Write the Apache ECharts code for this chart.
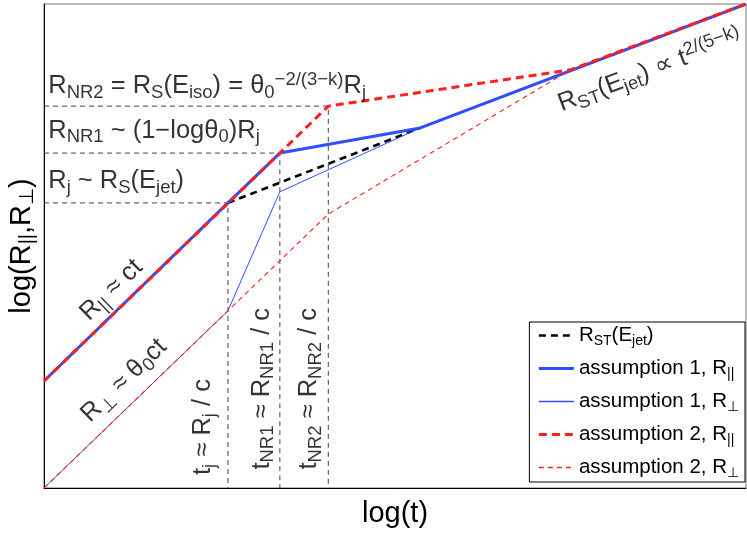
<!DOCTYPE html>
<html lang="en">
<head>
  <meta charset="UTF-8">
  <title>log(R) vs log(t)</title>
  <script src="https://cdn.jsdelivr.net/npm/echarts@6/dist/echarts.min.js"></script>
  <style>
    html, body { margin: 0; padding: 0; background: #fff; }
    #chart { width: 747px; height: 536px; }
  </style>
</head>
<body>
<div id="chart"></div>
<script>
  // break times (log t) and radii (log R), axes run 0..100
  var tBreakX = [26.2, 33.6, 40.5];   // t_j, t_NR1, t_NR2
  var rBreakY = [58.9, 69.2, 78.9];   // R_j, R_NR1, R_NR2

  var rstJet = [[26.2, 58.9], [53.6, 74.4]];
  var a1Par  = [[0, 22.1], [26.2, 58.9], [33.6, 69.2], [53.6, 74.4], [100, 100]];
  var a1Perp = [[0, 0], [26.2, 36.6], [33.6, 61.2], [53.6, 74.4], [100, 100]];
  var a2Par  = [[0, 22.1], [33.6, 69.2], [40.5, 78.9], [75, 86.4], [100, 100]];
  var a2Perp = [[0, 0], [26.2, 36.6], [40.5, 56.6], [75, 86.4], [100, 100]];

  var legendNames = ['rst', 'a1par', 'a1perp', 'a2par', 'a2perp'];
  var legendText = {
    rst: '{b|R}{s|ST}{b|(E}{s|jet}{b|)}',
    a1par: '{b|assumption 1, R}{s|||}',
    a1perp: '{b|assumption 1, R}{s|⊥}',
    a2par: '{b|assumption 2, R}{s|||}',
    a2perp: '{b|assumption 2, R}{s|⊥}'
  };

  // text notes: anchor in data units, rotation in degrees
  var notes = [
    { at: [0.6, 83.0], rot: 0, align: 'left',
      text: '{b|R}{s|NR2}{b| = R}{s|S}{b|(E}{s|iso}{b|) = θ}{s|0}{p|−2/(3−k)}{b|R}{s|j}' },
    { at: [0.6, 73.8], rot: 0, align: 'left',
      text: '{b|R}{s|NR1}{b| ~ (1−logθ}{s|0}{b|)R}{s|j}' },
    { at: [0.6, 63.4], rot: 0, align: 'left',
      text: '{b|R}{s|j}{b| ~ R}{s|S}{b|(E}{s|jet}{b|)}' },
    { at: [9.6, 40.9], rot: 44, align: 'center',
      text: '{b|R}{s|||}{b| ≈ ct}' },
    { at: [11.4, 22.2], rot: 44, align: 'center',
      text: '{b|R}{s|⊥}{b| ≈ θ}{s|0}{b|ct}' },
    { at: [22.7, 12.6], rot: 90, align: 'center',
      text: '{b|t}{s|j}{b| ≈ R}{s|j}{b| / c}' },
    { at: [31.0, 20.5], rot: 90, align: 'center',
      text: '{b|t}{s|NR1}{b| ≈ R}{s|NR1}{b| / c}' },
    { at: [37.8, 20.5], rot: 90, align: 'center',
      text: '{b|t}{s|NR2}{b| ≈ R}{s|NR2}{b| / c}' },
    { at: [86.3, 86.2], rot: 20.5, align: 'center',
      text: '{b|R}{s|ST}{b|(E}{s|jet}{b|) ∝ t}{p|2/(5−k)}' }
  ];

  var FONT = '"Liberation Sans", Arial, sans-serif';
  var BLUE = '#2e4fff';
  var RED = '#ff1f1f';

  var noteRich = {
    b: { fontSize: 25.5, lineHeight: 32, fontFamily: FONT, color: '#000' },
    s: { fontSize: 18.5, lineHeight: 15, verticalAlign: 'bottom', fontFamily: FONT, color: '#000' },
    p: { fontSize: 18.5, lineHeight: 15, verticalAlign: 'top', fontFamily: FONT, color: '#000' }
  };
  var legendRich = {
    b: { fontSize: 20.5, lineHeight: 25, fontFamily: FONT, color: '#000' },
    s: { fontSize: 14, lineHeight: 10, verticalAlign: 'bottom', fontFamily: FONT, color: '#000' }
  };
  var axisRich = {
    b: { fontSize: 29, lineHeight: 31, fontFamily: FONT, color: '#000' },
    s: { fontSize: 20, lineHeight: 14, verticalAlign: 'bottom', fontFamily: FONT, color: '#000' }
  };

  function guide(i) {
    return [[0, rBreakY[i]], [tBreakX[i], rBreakY[i]], [tBreakX[i], 0]];
  }

  function lineSeries(name, data, color, width, type, z) {
    return {
      name: name, type: 'line', data: data, symbol: 'none', silent: true,
      animation: false, z: z,
      lineStyle: { color: color, width: width, type: type, cap: 'butt' },
      itemStyle: { color: color }
    };
  }

  var series = [];
  tBreakX.forEach(function (x, i) {
    series.push(lineSeries('guide' + i, guide(i), '#444', 1, [5, 4], 1));
  });
  series.push(lineSeries('rst', rstJet, '#000', 2.6, [7, 5], 2));
  series.push(lineSeries('a1par', a1Par, BLUE, 3, 'solid', 3));
  series.push(lineSeries('a1perp', a1Perp, BLUE, 1, 'solid', 3));
  series.push(lineSeries('a2par', a2Par, RED, 3, [8, 5], 4));
  series.push(lineSeries('a2perp', a2Perp, RED, 1.1, [5, 4], 4));

  series.push({
    name: 'notes', type: 'scatter', symbolSize: 0, silent: true, animation: false, z: 5,
    label: { show: true, position: 'inside', rich: noteRich },
    data: notes.map(function (n) {
      return {
        value: n.at,
        label: { formatter: n.text, rotate: n.rot, align: n.align, verticalAlign: 'middle' }
      };
    })
  });

  // legend icons copy each line's own stroke (thin ones a bit heavier to stay visible)
  var legendData = legendNames.map(function (name) {
    var s = series.filter(function (x) { return x.name === name; })[0];
    return {
      name: name,
      itemStyle: { opacity: 0 },
      lineStyle: {
        color: s.lineStyle.color,
        width: Math.max(s.lineStyle.width, 1.4),
        type: s.lineStyle.type
      }
    };
  });

  var chart = echarts.init(document.getElementById('chart'));
  chart.setOption({
    backgroundColor: '#fff',
    animation: false,
    grid: {
      left: 44, right: 1, top: 4, bottom: 48,
      show: true, borderColor: '#777', borderWidth: 1,
      outerBoundsMode: 'none'
    },
    xAxis: {
      type: 'value', min: 0, max: 100,
      name: '{b|log(t)}', nameLocation: 'middle', nameGap: 10,
      nameTextStyle: { rich: axisRich },
      axisLine: { show: true, lineStyle: { color: '#000', width: 1 } },
      axisTick: { show: false }, axisLabel: { show: false }, splitLine: { show: false }
    },
    yAxis: {
      type: 'value', min: 0, max: 100,
      name: '{b|log(R}{s|||}{b|,R}{s|⊥}{b|)}', nameLocation: 'middle', nameGap: 7,
      nameTextStyle: { rich: axisRich },
      axisLine: { show: true, lineStyle: { color: '#000', width: 1 } },
      axisTick: { show: false }, axisLabel: { show: false }, splitLine: { show: false }
    },
    legend: {
      data: legendData,
      orient: 'vertical', right: 2, bottom: 54,
      itemWidth: 35, itemHeight: 14, itemGap: 10,
      backgroundColor: '#fff', borderColor: '#000', borderWidth: 1,
      padding: [3, 6, 2, 8],
      selectedMode: false,
      itemStyle: { opacity: 0 },
      textStyle: { rich: legendRich },
      formatter: function (name) { return legendText[name]; }
    },
    series: series
  });
</script>
</body>
</html>
